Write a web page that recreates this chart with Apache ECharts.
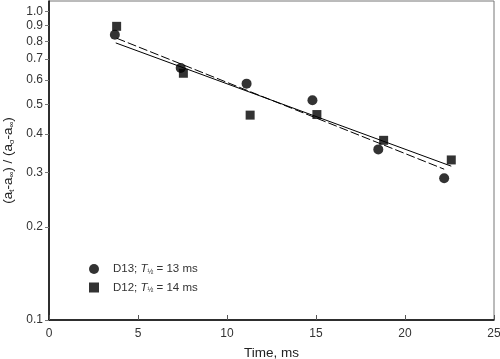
<!DOCTYPE html>
<html><head><meta charset="utf-8">
<script src="https://cdn.jsdelivr.net/npm/echarts@6/dist/echarts.min.js"></script>
<style>html,body{margin:0;padding:0;background:#fff}#c{width:500px;height:359px}</style>
</head><body><div id="c"></div>
<script>
const d13Time = [3.7, 7.4, 11.1, 14.8, 18.5, 22.2];
const d13Ratio = [0.84, 0.655, 0.583, 0.515, 0.357, 0.288];
const d12Time = [3.8, 7.55, 11.3, 15.05, 18.8, 22.6];
const d12Ratio = [0.894, 0.630, 0.461, 0.463, 0.382, 0.330];
const d13FitTime = [3.8, 22.2];
const d13FitRatio = [0.818, 0.308];
const d12FitTime = [3.75, 22.6];
const d12FitRatio = [0.790, 0.315];
const yTicks = [0.1, 0.2, 0.3, 0.4, 0.5, 0.6, 0.7, 0.8, 0.9, 1.0];

const zip = (a, b) => a.map((v, i) => [v, b[i]]);
const font = 'Liberation Sans, Arial, sans-serif';
const chart = echarts.init(document.getElementById('c'), null, {renderer: 'canvas'});
chart.setOption({
  animation: false,
  backgroundColor: '#fff',
  textStyle: {fontFamily: font},
  grid: {left: 49, right: 6, top: 1, bottom: 39, show: true, borderColor: '#777', borderWidth: 1,
    outerBoundsMode: 'none', containLabel: false},
  xAxis: {
    type: 'value', min: 0, max: 25, interval: 5,
    axisLine: {lineStyle: {color: '#000', width: 1.5}},
    axisTick: {inside: true, length: 5, lineStyle: {color: '#555'}},
    axisLabel: {color: '#333', fontSize: 12, margin: 8, fontFamily: font},
    splitLine: {show: false},
    name: 'Time, ms', nameLocation: 'middle', nameGap: 26,
    nameTextStyle: {color: '#222', fontSize: 13.5, fontFamily: font}
  },
  yAxis: {
    type: 'log', logBase: 10, min: 0.1, max: 1.08,
    axisLine: {lineStyle: {color: '#000', width: 1.5}},
    axisTick: {show: true, inside: false, length: 4, customValues: yTicks, lineStyle: {color: '#777'}},
    axisLabel: {color: '#333', fontSize: 12, margin: 6, customValues: yTicks, fontFamily: font,
      formatter: v => (+v).toFixed(1)},
    minorTick: {show: false},
    splitLine: {show: false},
    name: '(a{s|t}-a{s|∞}) / (a{s|o}-a{s|∞})', nameLocation: 'middle', nameRotate: 90, nameGap: 26,
    nameTextStyle: {color: '#222', fontSize: 13.5, fontFamily: font,
      rich: {s: {fontSize: 8, padding: [7, 0, 0, 0], color: '#222', fontFamily: font}}}
  },
  legend: {
    orient: 'vertical', left: 84, top: 258, itemGap: 6, itemWidth: 10, itemHeight: 10,
    data: [{name: 'D13', icon: 'circle'}, {name: 'D12', icon: 'rect'}],
    formatter: n => n === 'D13' ? '{p|}D13; {i|T}{s|½} = 13 ms' : '{p|}D12; {i|T}{s|½} = 14 ms',
    textStyle: {color: '#333', fontSize: 11.5, fontFamily: font,
      rich: {p: {width: 9}, i: {fontStyle: 'italic', fontSize: 11.5, color: '#333'},
             s: {fontSize: 7, padding: [6, 0, 0, 0], color: '#333'}}}
  },
  series: [
    {name: 'D13 fit', type: 'line', data: zip(d13FitTime, d13FitRatio), symbol: 'none',
      lineStyle: {color: '#000', width: 1, type: [9, 3]}, z: 2},
    {name: 'D12 fit', type: 'line', data: zip(d12FitTime, d12FitRatio), symbol: 'none',
      lineStyle: {color: '#000', width: 1}, z: 2},
    {name: 'D13', type: 'scatter', data: zip(d13Time, d13Ratio), symbol: 'circle', symbolSize: 10,
      itemStyle: {color: '#000'}, z: 3},
    {name: 'D12', type: 'scatter', data: zip(d12Time, d12Ratio), symbol: 'rect', symbolSize: 9,
      itemStyle: {color: '#000'}, z: 3}
  ]
});
</script></body></html>
